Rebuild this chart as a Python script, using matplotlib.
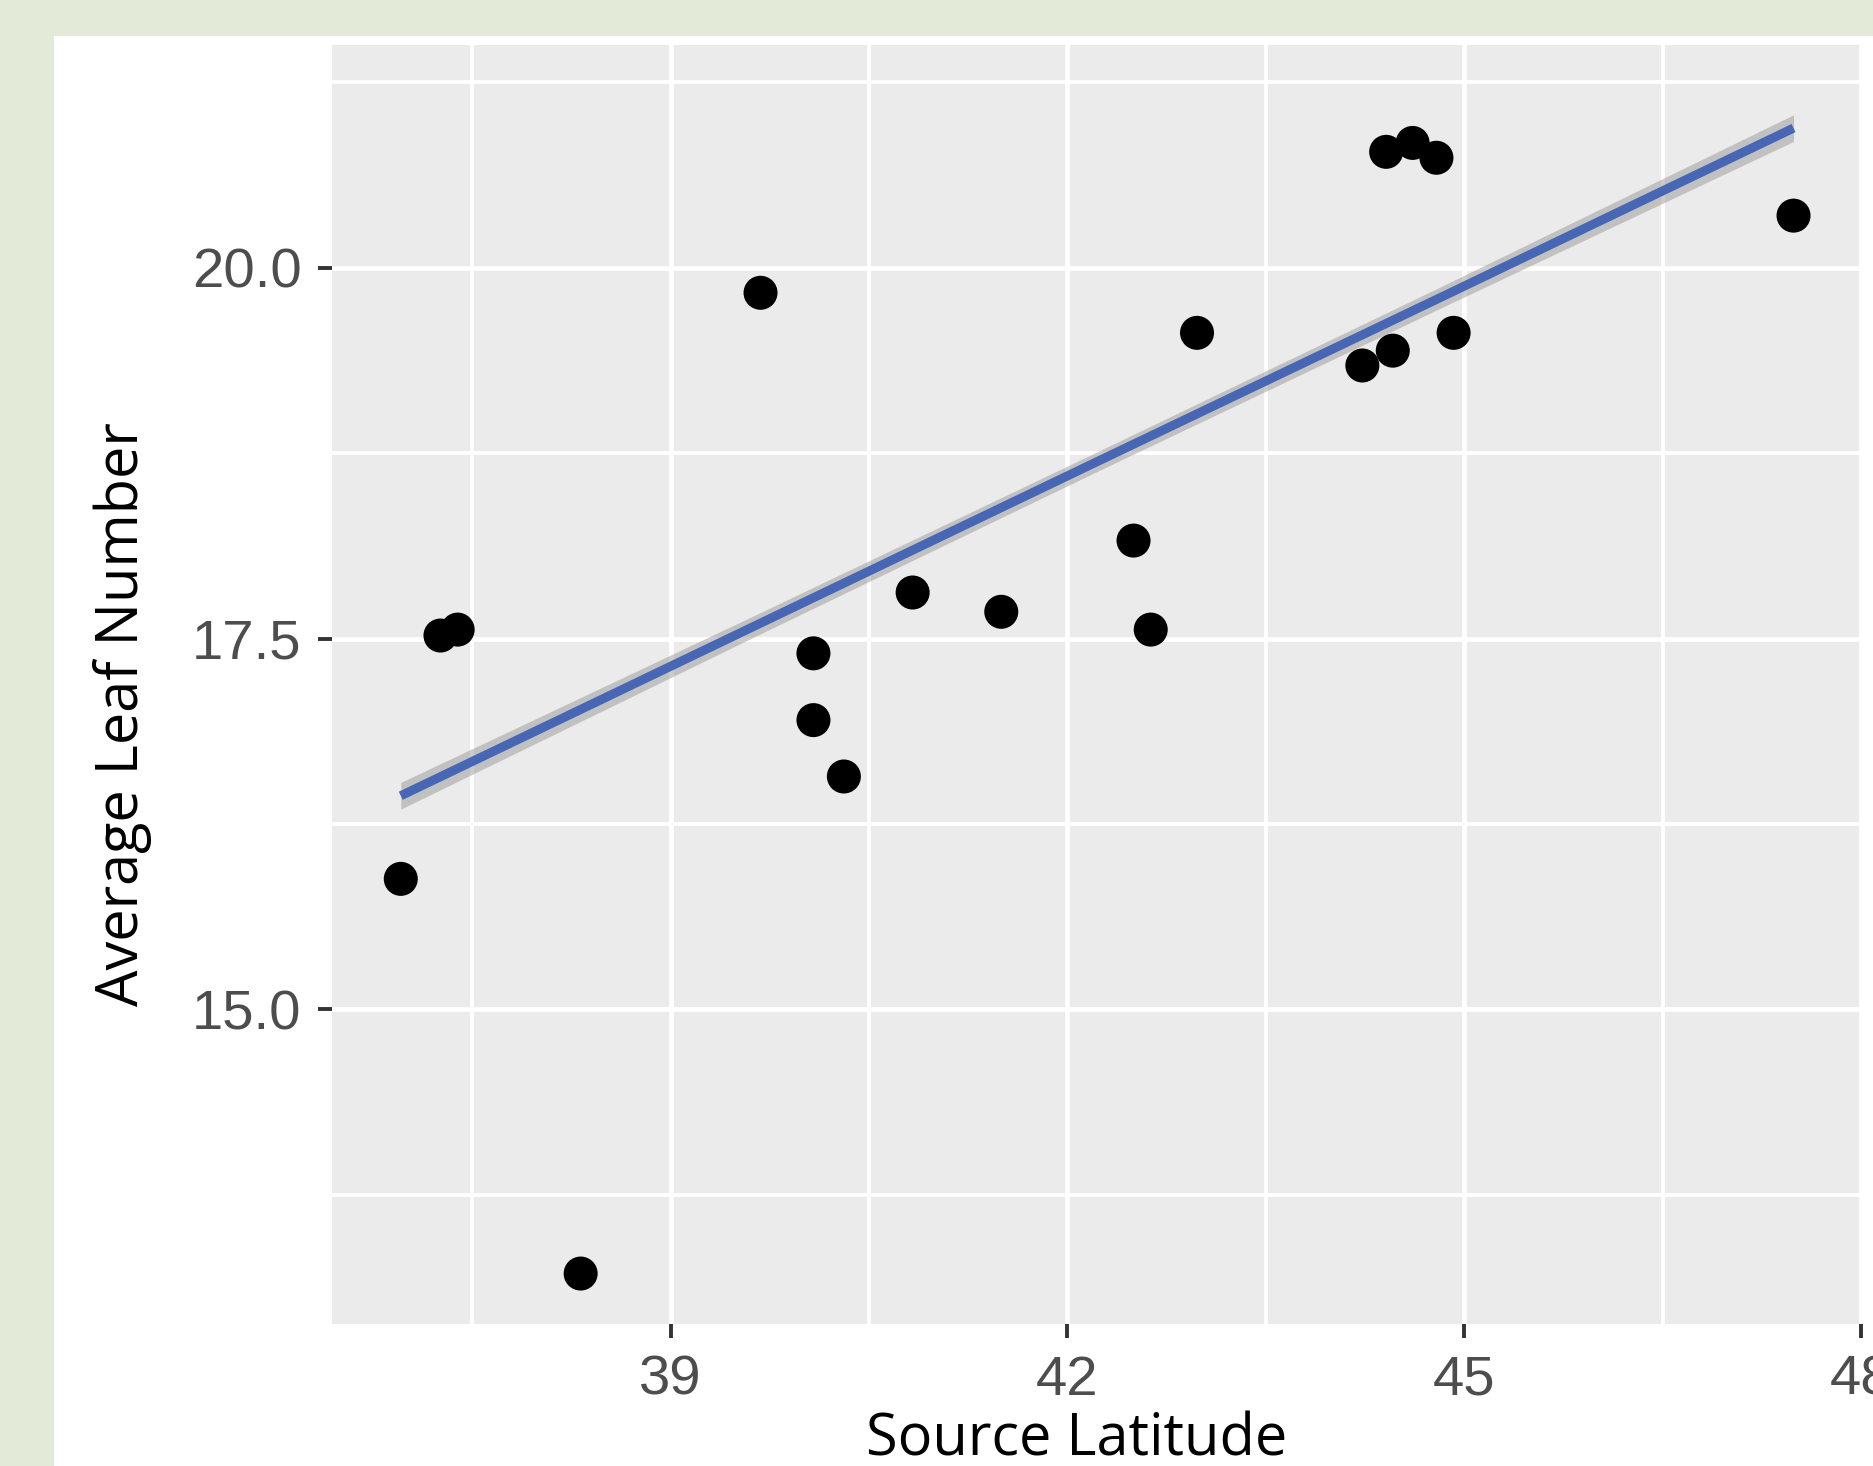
import matplotlib
matplotlib.use("Agg")
import matplotlib.pyplot as plt
from matplotlib.patches import Rectangle
import numpy as np

# ---- data ----
latitude = [36.96, 37.26, 37.39, 38.32, 39.68, 40.08, 40.08, 40.31, 40.83, 41.50,
            42.50, 42.63, 42.98, 44.23, 44.46, 44.92, 44.41, 44.61, 44.79, 47.49]
leaf_number = [15.88, 17.52, 17.56, 13.22, 19.83, 17.40, 16.95, 16.57, 17.81, 17.68,
               18.16, 17.56, 19.56, 19.34, 19.44, 19.56, 20.78, 20.84, 20.74, 20.35]

fit_x = [36.96, 39.59, 42.22, 44.86, 47.49]
fit_y = [16.44, 17.565, 18.69, 19.815, 20.94]
fit_se = [0.09, 0.072, 0.066, 0.072, 0.09]

x_major = [39, 42, 45, 48]
x_minor = [37.5, 40.5, 43.5, 46.5]
y_major = [15.0, 17.5, 20.0]
y_minor = [13.75, 16.25, 18.75, 21.25]
y_labels = ["15.0", "17.5", "20.0"]
x_labels = ["39", "42", "45", "48"]

W, H = 1874, 1466
fig = plt.figure(figsize=(W / 100, H / 100), dpi=100)
fig.patch.set_facecolor("#e3ead8")
fig.add_artist(Rectangle((54 / W, 0), 1, 1 - 36 / H, transform=fig.transFigure,
                         facecolor="white", edgecolor="none", zorder=0))

ax = fig.add_axes([332 / W, 1 - 1324 / H, (1861 - 332) / W, (1324 - 45) / H])
ax.set_facecolor("#EBEBEB")
for s in ax.spines.values():
    s.set_visible(False)

ax.set_xlim(36.44, 48.0)
ax.set_ylim(12.88, 21.5)
ax.set_xticks(x_major)
ax.set_xticklabels(x_labels)
ax.set_xticks(x_minor, minor=True)
ax.set_yticks(y_major)
ax.set_yticklabels(y_labels)
ax.set_yticks(y_minor, minor=True)
ax.grid(which="major", color="white", lw=3.4)
ax.grid(which="minor", color="white", lw=2.8)
ax.set_axisbelow(True)

tick_font = dict(family=["Liberation Sans", "DejaVu Sans"], size=40.5, color="#4D4D4D")
ax.tick_params(which="major", length=10, width=2.8, color="#333333", pad=12)
ax.tick_params(which="minor", length=0)
for lab in ax.get_xticklabels() + ax.get_yticklabels():
    lab.set_fontfamily(tick_font["family"])
    lab.set_fontsize(tick_font["size"])
    lab.set_color(tick_font["color"])

ax.scatter(latitude, leaf_number, s=600, color="black", edgecolors="none", zorder=3)

fx = np.array(fit_x)
fy = np.array(fit_y)
se = np.array(fit_se)
ax.fill_between(fx, fy - se, fy + se, color="#999999", alpha=0.5,
                linewidth=0, zorder=4)
ax.plot(fx, fy, color="#4766B4", lw=6.5, solid_capstyle="butt", zorder=5)

label_font = ["Open Sans", "DejaVu Sans"]
fig.text(1077 / W, 1 - 1456 / H, "Source Latitude", family=label_font, size=41.5,
         color="black", ha="center", va="baseline")
fig.text(123 / W, 1 - 714 / H, "Average Leaf Number", family=label_font, size=41.5,
         color="black", ha="center", va="center", rotation=90)

fig.savefig("out.png", dpi=100, facecolor=fig.get_facecolor())
